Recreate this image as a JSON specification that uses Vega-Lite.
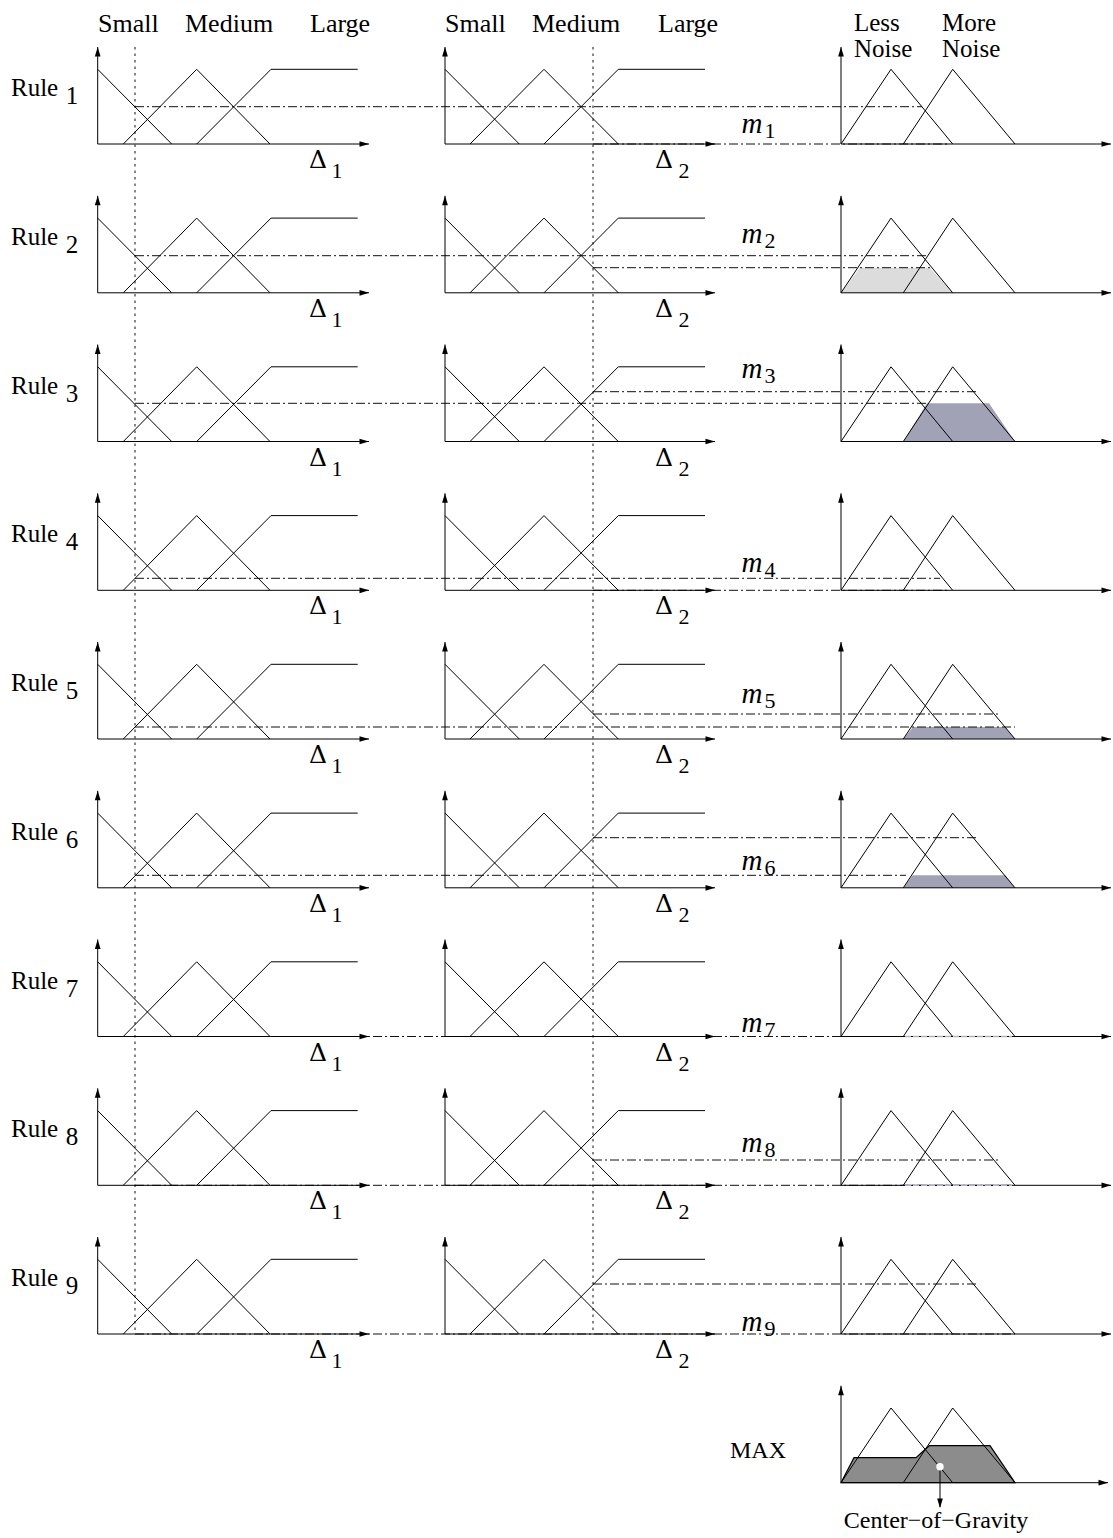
{
  "$schema": "https://vega.github.io/schema/vega-lite/v6.json",
  "width": 1113,
  "height": 1538,
  "padding": 0,
  "autosize": {"type": "none"},
  "background": "white",
  "config": {"view": {"stroke": null}, "font": "Liberation Serif"},
  "datasets": {
    "mf": [
      {"id":"1aS","x":[97.7,171.7],"y":[69.3,144]},
      {"id":"1aM","x":[123.3,196.7,270],"y":[144,69.3,144]},
      {"id":"1aL","x":[196.7,271,357.7],"y":[144,69.3,69.3]},
      {"id":"1bS","x":[445,519.3],"y":[69.3,144]},
      {"id":"1bM","x":[470,544,618.3],"y":[144,69.3,144]},
      {"id":"1bL","x":[544,618.3,705],"y":[144,69.3,69.3]},
      {"id":"1oL","x":[841,891,952.7],"y":[144,69.3,144]},
      {"id":"1oM","x":[903.3,952.7,1015],"y":[144,69.3,144]},
      {"id":"2aS","x":[97.7,171.7],"y":[218.1,292.8]},
      {"id":"2aM","x":[123.3,196.7,270],"y":[292.8,218.1,292.8]},
      {"id":"2aL","x":[196.7,271,357.7],"y":[292.8,218.1,218.1]},
      {"id":"2bS","x":[445,519.3],"y":[218.1,292.8]},
      {"id":"2bM","x":[470,544,618.3],"y":[292.8,218.1,292.8]},
      {"id":"2bL","x":[544,618.3,705],"y":[292.8,218.1,218.1]},
      {"id":"2oL","x":[841,891,952.7],"y":[292.8,218.1,292.8]},
      {"id":"2oM","x":[903.3,952.7,1015],"y":[292.8,218.1,292.8]},
      {"id":"3aS","x":[97.7,171.7],"y":[366.8,441.5]},
      {"id":"3aM","x":[123.3,196.7,270],"y":[441.5,366.8,441.5]},
      {"id":"3aL","x":[196.7,271,357.7],"y":[441.5,366.8,366.8]},
      {"id":"3bS","x":[445,519.3],"y":[366.8,441.5]},
      {"id":"3bM","x":[470,544,618.3],"y":[441.5,366.8,441.5]},
      {"id":"3bL","x":[544,618.3,705],"y":[441.5,366.8,366.8]},
      {"id":"3oL","x":[841,891,952.7],"y":[441.5,366.8,441.5]},
      {"id":"3oM","x":[903.3,952.7,1015],"y":[441.5,366.8,441.5]},
      {"id":"4aS","x":[97.7,171.7],"y":[515.6,590.3]},
      {"id":"4aM","x":[123.3,196.7,270],"y":[590.3,515.6,590.3]},
      {"id":"4aL","x":[196.7,271,357.7],"y":[590.3,515.6,515.6]},
      {"id":"4bS","x":[445,519.3],"y":[515.6,590.3]},
      {"id":"4bM","x":[470,544,618.3],"y":[590.3,515.6,590.3]},
      {"id":"4bL","x":[544,618.3,705],"y":[590.3,515.6,515.6]},
      {"id":"4oL","x":[841,891,952.7],"y":[590.3,515.6,590.3]},
      {"id":"4oM","x":[903.3,952.7,1015],"y":[590.3,515.6,590.3]},
      {"id":"5aS","x":[97.7,171.7],"y":[664.3,739]},
      {"id":"5aM","x":[123.3,196.7,270],"y":[739,664.3,739]},
      {"id":"5aL","x":[196.7,271,357.7],"y":[739,664.3,664.3]},
      {"id":"5bS","x":[445,519.3],"y":[664.3,739]},
      {"id":"5bM","x":[470,544,618.3],"y":[739,664.3,739]},
      {"id":"5bL","x":[544,618.3,705],"y":[739,664.3,664.3]},
      {"id":"5oL","x":[841,891,952.7],"y":[739,664.3,739]},
      {"id":"5oM","x":[903.3,952.7,1015],"y":[739,664.3,739]},
      {"id":"6aS","x":[97.7,171.7],"y":[813.1,887.8]},
      {"id":"6aM","x":[123.3,196.7,270],"y":[887.8,813.1,887.8]},
      {"id":"6aL","x":[196.7,271,357.7],"y":[887.8,813.1,813.1]},
      {"id":"6bS","x":[445,519.3],"y":[813.1,887.8]},
      {"id":"6bM","x":[470,544,618.3],"y":[887.8,813.1,887.8]},
      {"id":"6bL","x":[544,618.3,705],"y":[887.8,813.1,813.1]},
      {"id":"6oL","x":[841,891,952.7],"y":[887.8,813.1,887.8]},
      {"id":"6oM","x":[903.3,952.7,1015],"y":[887.8,813.1,887.8]},
      {"id":"7aS","x":[97.7,171.7],"y":[961.8,1036.5]},
      {"id":"7aM","x":[123.3,196.7,270],"y":[1036.5,961.8,1036.5]},
      {"id":"7aL","x":[196.7,271,357.7],"y":[1036.5,961.8,961.8]},
      {"id":"7bS","x":[445,519.3],"y":[961.8,1036.5]},
      {"id":"7bM","x":[470,544,618.3],"y":[1036.5,961.8,1036.5]},
      {"id":"7bL","x":[544,618.3,705],"y":[1036.5,961.8,961.8]},
      {"id":"7oL","x":[841,891,952.7],"y":[1036.5,961.8,1036.5]},
      {"id":"7oM","x":[903.3,952.7,1015],"y":[1036.5,961.8,1036.5]},
      {"id":"8aS","x":[97.7,171.7],"y":[1110.6,1185.3]},
      {"id":"8aM","x":[123.3,196.7,270],"y":[1185.3,1110.6,1185.3]},
      {"id":"8aL","x":[196.7,271,357.7],"y":[1185.3,1110.6,1110.6]},
      {"id":"8bS","x":[445,519.3],"y":[1110.6,1185.3]},
      {"id":"8bM","x":[470,544,618.3],"y":[1185.3,1110.6,1185.3]},
      {"id":"8bL","x":[544,618.3,705],"y":[1185.3,1110.6,1110.6]},
      {"id":"8oL","x":[841,891,952.7],"y":[1185.3,1110.6,1185.3]},
      {"id":"8oM","x":[903.3,952.7,1015],"y":[1185.3,1110.6,1185.3]},
      {"id":"9aS","x":[97.7,171.7],"y":[1259.3,1334]},
      {"id":"9aM","x":[123.3,196.7,270],"y":[1334,1259.3,1334]},
      {"id":"9aL","x":[196.7,271,357.7],"y":[1334,1259.3,1259.3]},
      {"id":"9bS","x":[445,519.3],"y":[1259.3,1334]},
      {"id":"9bM","x":[470,544,618.3],"y":[1334,1259.3,1334]},
      {"id":"9bL","x":[544,618.3,705],"y":[1334,1259.3,1259.3]},
      {"id":"9oL","x":[841,891,952.7],"y":[1334,1259.3,1334]},
      {"id":"9oM","x":[903.3,952.7,1015],"y":[1334,1259.3,1334]},
      {"id":"XoL","x":[841,891,952.7],"y":[1482.7,1408,1482.7]},
      {"id":"XoM","x":[903.3,952.7,1015],"y":[1482.7,1408,1482.7]}
    ],
    "axes": [
      {"x":97.7,"y":144,"x2":97.7,"y2":47},{"x":97.7,"y":144,"x2":369,"y2":144},
      {"x":445,"y":144,"x2":445,"y2":47},{"x":445,"y":144,"x2":715,"y2":144},
      {"x":841,"y":144,"x2":841,"y2":47},{"x":841,"y":144,"x2":1111,"y2":144},
      {"x":97.7,"y":292.8,"x2":97.7,"y2":195.8},{"x":97.7,"y":292.8,"x2":369,"y2":292.8},
      {"x":445,"y":292.8,"x2":445,"y2":195.8},{"x":445,"y":292.8,"x2":715,"y2":292.8},
      {"x":841,"y":292.8,"x2":841,"y2":195.8},{"x":841,"y":292.8,"x2":1111,"y2":292.8},
      {"x":97.7,"y":441.5,"x2":97.7,"y2":344.5},{"x":97.7,"y":441.5,"x2":369,"y2":441.5},
      {"x":445,"y":441.5,"x2":445,"y2":344.5},{"x":445,"y":441.5,"x2":715,"y2":441.5},
      {"x":841,"y":441.5,"x2":841,"y2":344.5},{"x":841,"y":441.5,"x2":1111,"y2":441.5},
      {"x":97.7,"y":590.3,"x2":97.7,"y2":493.3},{"x":97.7,"y":590.3,"x2":369,"y2":590.3},
      {"x":445,"y":590.3,"x2":445,"y2":493.3},{"x":445,"y":590.3,"x2":715,"y2":590.3},
      {"x":841,"y":590.3,"x2":841,"y2":493.3},{"x":841,"y":590.3,"x2":1111,"y2":590.3},
      {"x":97.7,"y":739,"x2":97.7,"y2":642},{"x":97.7,"y":739,"x2":369,"y2":739},
      {"x":445,"y":739,"x2":445,"y2":642},{"x":445,"y":739,"x2":715,"y2":739},
      {"x":841,"y":739,"x2":841,"y2":642},{"x":841,"y":739,"x2":1111,"y2":739},
      {"x":97.7,"y":887.8,"x2":97.7,"y2":790.8},{"x":97.7,"y":887.8,"x2":369,"y2":887.8},
      {"x":445,"y":887.8,"x2":445,"y2":790.8},{"x":445,"y":887.8,"x2":715,"y2":887.8},
      {"x":841,"y":887.8,"x2":841,"y2":790.8},{"x":841,"y":887.8,"x2":1111,"y2":887.8},
      {"x":97.7,"y":1036.5,"x2":97.7,"y2":939.5},{"x":97.7,"y":1036.5,"x2":369,"y2":1036.5},
      {"x":445,"y":1036.5,"x2":445,"y2":939.5},{"x":445,"y":1036.5,"x2":715,"y2":1036.5},
      {"x":841,"y":1036.5,"x2":841,"y2":939.5},{"x":841,"y":1036.5,"x2":1111,"y2":1036.5},
      {"x":97.7,"y":1185.3,"x2":97.7,"y2":1088.3},{"x":97.7,"y":1185.3,"x2":369,"y2":1185.3},
      {"x":445,"y":1185.3,"x2":445,"y2":1088.3},{"x":445,"y":1185.3,"x2":715,"y2":1185.3},
      {"x":841,"y":1185.3,"x2":841,"y2":1088.3},{"x":841,"y":1185.3,"x2":1111,"y2":1185.3},
      {"x":97.7,"y":1334,"x2":97.7,"y2":1237},{"x":97.7,"y":1334,"x2":369,"y2":1334},
      {"x":445,"y":1334,"x2":445,"y2":1237},{"x":445,"y":1334,"x2":715,"y2":1334},
      {"x":841,"y":1334,"x2":841,"y2":1237},{"x":841,"y":1334,"x2":1111,"y2":1334},
      {"x":841,"y":1482.7,"x2":841,"y2":1385.7},{"x":841,"y":1482.7,"x2":1108,"y2":1482.7},
      {"x":940,"y":1467,"x2":940,"y2":1507}
    ],
    "arrowsUp": [
      {"x":97.7,"y":47},{"x":445,"y":47},{"x":841,"y":47},
      {"x":97.7,"y":195.8},{"x":445,"y":195.8},{"x":841,"y":195.8},
      {"x":97.7,"y":344.5},{"x":445,"y":344.5},{"x":841,"y":344.5},
      {"x":97.7,"y":493.3},{"x":445,"y":493.3},{"x":841,"y":493.3},
      {"x":97.7,"y":642},{"x":445,"y":642},{"x":841,"y":642},
      {"x":97.7,"y":790.8},{"x":445,"y":790.8},{"x":841,"y":790.8},
      {"x":97.7,"y":939.5},{"x":445,"y":939.5},{"x":841,"y":939.5},
      {"x":97.7,"y":1088.3},{"x":445,"y":1088.3},{"x":841,"y":1088.3},
      {"x":97.7,"y":1237},{"x":445,"y":1237},{"x":841,"y":1237},
      {"x":841,"y":1385.7}
    ],
    "arrowsRight": [
      {"x":369,"y":144},{"x":715,"y":144},{"x":1111,"y":144},
      {"x":369,"y":292.8},{"x":715,"y":292.8},{"x":1111,"y":292.8},
      {"x":369,"y":441.5},{"x":715,"y":441.5},{"x":1111,"y":441.5},
      {"x":369,"y":590.3},{"x":715,"y":590.3},{"x":1111,"y":590.3},
      {"x":369,"y":739},{"x":715,"y":739},{"x":1111,"y":739},
      {"x":369,"y":887.8},{"x":715,"y":887.8},{"x":1111,"y":887.8},
      {"x":369,"y":1036.5},{"x":715,"y":1036.5},{"x":1111,"y":1036.5},
      {"x":369,"y":1185.3},{"x":715,"y":1185.3},{"x":1111,"y":1185.3},
      {"x":369,"y":1334},{"x":715,"y":1334},{"x":1111,"y":1334},
      {"x":1108,"y":1482.7}
    ],
    "arrowsDown": [{"x":940,"y":1508}],
    "cog": [{"x":940,"y":1466.7}],
    "levels": [
      {"x":135,"x2":922,"y":106.7},{"x":593,"x2":950,"y":144},
      {"x":135,"x2":928,"y":255.7},{"x":593,"x2":930,"y":267.7},
      {"x":135,"x2":927,"y":403.3},{"x":593,"x2":977,"y":391.7},
      {"x":135,"x2":940,"y":578.3},{"x":593,"x2":950,"y":590.3},
      {"x":135,"x2":1015,"y":727},{"x":593,"x2":1001,"y":714},
      {"x":135,"x2":906,"y":875.3},{"x":593,"x2":978,"y":837.7},
      {"x":135,"x2":1012,"y":1036.5},
      {"x":135,"x2":1012,"y":1185.3},{"x":593,"x2":1000,"y":1160},
      {"x":135,"x2":1015,"y":1334},{"x":593,"x2":979,"y":1284}
    ],
    "guides": [
      {"x":135,"y":47,"y2":1334},
      {"x":593,"y":47,"y2":1334}
    ],
    "fills": [
      {"id":"f2","term":"Less Noise","x":[841,860,930,952.7],"y":[292.8,267.7,267.7,292.8],"y2":292.8},
      {"id":"f3","term":"More Noise","x":[903.3,927,989,1015],"y":[441.5,403.3,403.3,441.5],"y2":441.5},
      {"id":"f5","term":"More Noise","x":[903.3,913,1005,1015],"y":[739,727,727,739],"y2":739},
      {"id":"f6","term":"More Noise","x":[903.3,912.7,1005.5,1015],"y":[887.8,875.3,875.3,887.8],"y2":887.8}
    ],
    "zeroFills": [
      {"x":905,"x2":1012,"y":1036.5},
      {"x":905,"x2":1012,"y":1185.3}
    ],
    "maxfill": [
      {"id":"fx","x":[841,854,916,929.3,990,1015],"y":[1482.7,1457.7,1457.7,1445.7,1445.7,1482.7],"y2":1482.7}
    ],
    "heads": [
      {"t":"Small","x":98,"y":31.7},{"t":"Medium","x":185,"y":31.7},{"t":"Large","x":310,"y":31.7},
      {"t":"Small","x":445,"y":31.7},{"t":"Medium","x":532,"y":31.7},{"t":"Large","x":658,"y":31.7}
    ],
    "outHeads": [
      {"t":"Less","x":854,"y":30.5},{"t":"Noise","x":854,"y":56.7},
      {"t":"More","x":942,"y":30.5},{"t":"Noise","x":942,"y":56.7}
    ],
    "rules": [
      {"t":"Rule","x":11,"y":96},{"t":"Rule","x":11,"y":244.8},{"t":"Rule","x":11,"y":393.5},
      {"t":"Rule","x":11,"y":542.3},{"t":"Rule","x":11,"y":691},{"t":"Rule","x":11,"y":839.8},
      {"t":"Rule","x":11,"y":988.5},{"t":"Rule","x":11,"y":1137.3},{"t":"Rule","x":11,"y":1286}
    ],
    "ruleSubs": [
      {"t":"1","x":72,"y":104},{"t":"2","x":72,"y":252.8},{"t":"3","x":72,"y":401.5},
      {"t":"4","x":72,"y":550.3},{"t":"5","x":72,"y":699},{"t":"6","x":72,"y":847.8},
      {"t":"7","x":72,"y":996.5},{"t":"8","x":72,"y":1145.3},{"t":"9","x":72,"y":1294}
    ],
    "deltas": [
      {"t":"Δ","x":318,"y":168},{"t":"Δ","x":664,"y":168},
      {"t":"Δ","x":318,"y":316.8},{"t":"Δ","x":664,"y":316.8},
      {"t":"Δ","x":318,"y":465.5},{"t":"Δ","x":664,"y":465.5},
      {"t":"Δ","x":318,"y":614.3},{"t":"Δ","x":664,"y":614.3},
      {"t":"Δ","x":318,"y":763},{"t":"Δ","x":664,"y":763},
      {"t":"Δ","x":318,"y":911.8},{"t":"Δ","x":664,"y":911.8},
      {"t":"Δ","x":318,"y":1060.5},{"t":"Δ","x":664,"y":1060.5},
      {"t":"Δ","x":318,"y":1209.3},{"t":"Δ","x":664,"y":1209.3},
      {"t":"Δ","x":318,"y":1358},{"t":"Δ","x":664,"y":1358}
    ],
    "deltaSubs": [
      {"t":"1","x":337,"y":178},{"t":"2","x":684,"y":178},
      {"t":"1","x":337,"y":326.8},{"t":"2","x":684,"y":326.8},
      {"t":"1","x":337,"y":475.5},{"t":"2","x":684,"y":475.5},
      {"t":"1","x":337,"y":624.3},{"t":"2","x":684,"y":624.3},
      {"t":"1","x":337,"y":773},{"t":"2","x":684,"y":773},
      {"t":"1","x":337,"y":921.8},{"t":"2","x":684,"y":921.8},
      {"t":"1","x":337,"y":1070.5},{"t":"2","x":684,"y":1070.5},
      {"t":"1","x":337,"y":1219.3},{"t":"2","x":684,"y":1219.3},
      {"t":"1","x":337,"y":1368},{"t":"2","x":684,"y":1368}
    ],
    "ms": [
      {"t":"m","x":752,"y":133},{"t":"m","x":752,"y":243},{"t":"m","x":752,"y":378},
      {"t":"m","x":752,"y":572},{"t":"m","x":752,"y":703},{"t":"m","x":752,"y":870},
      {"t":"m","x":752,"y":1032},{"t":"m","x":752,"y":1152},{"t":"m","x":752,"y":1331}
    ],
    "mSubs": [
      {"t":"1","x":770,"y":138},{"t":"2","x":770,"y":248},{"t":"3","x":770,"y":383},
      {"t":"4","x":770,"y":577},{"t":"5","x":770,"y":708},{"t":"6","x":770,"y":875},
      {"t":"7","x":770,"y":1037},{"t":"8","x":770,"y":1157},{"t":"9","x":770,"y":1336}
    ],
    "bottom": [
      {"t":"MAX","x":758,"y":1458},
      {"t":"Center−of−Gravity","x":936,"y":1528}
    ]
  },
  "encoding": {
    "x": {"field": "x", "type": "quantitative", "scale": {"domain": [0, 1113], "nice": false, "zero": false}, "axis": null},
    "y": {"field": "y", "type": "quantitative", "scale": {"domain": [0, 1538], "nice": false, "zero": false, "reverse": true}, "axis": null}
  },
  "layer": [
    {
      "data": {"name": "fills"},
      "transform": [{"flatten": ["x", "y"]}],
      "mark": {"type": "area", "orient": "vertical", "interpolate": "linear"},
      "encoding": {
        "y": {"field": "y", "type": "quantitative", "stack": null, "scale": {"domain": [0, 1538], "nice": false, "zero": false, "reverse": true}, "axis": null},
        "y2": {"field": "y2"},
        "detail": {"field": "id"},
        "color": {"field": "term", "type": "nominal", "scale": {"domain": ["Less Noise", "More Noise"], "range": ["#dcdcdc", "#a2a2b6"]}, "legend": null}
      }
    },
    {
      "data": {"name": "maxfill"},
      "transform": [{"flatten": ["x", "y"]}],
      "mark": {"type": "area", "orient": "vertical", "interpolate": "linear", "fill": "#8c8c8c", "stroke": "black", "strokeWidth": 1.2},
      "encoding": {
        "y": {"field": "y", "type": "quantitative", "stack": null, "scale": {"domain": [0, 1538], "nice": false, "zero": false, "reverse": true}, "axis": null},
        "y2": {"field": "y2"},
        "detail": {"field": "id"}
      }
    },
    {
      "data": {"name": "levels"},
      "mark": {"type": "rule", "stroke": "#111", "strokeWidth": 1, "strokeDash": [9, 3, 2, 3]},
      "encoding": {"x2": {"field": "x2"}}
    },
    {
      "data": {"name": "guides"},
      "mark": {"type": "rule", "stroke": "#111", "strokeWidth": 1, "strokeDash": [2.5, 4]},
      "encoding": {"y2": {"field": "y2"}}
    },
    {
      "data": {"name": "mf"},
      "transform": [{"flatten": ["x", "y"]}],
      "mark": {"type": "line", "stroke": "black", "strokeWidth": 1},
      "encoding": {"detail": {"field": "id"}}
    },
    {
      "data": {"name": "axes"},
      "mark": {"type": "rule", "stroke": "black", "strokeWidth": 1},
      "encoding": {"x2": {"field": "x2"}, "y2": {"field": "y2"}}
    },
    {
      "data": {"name": "zeroFills"},
      "mark": {"type": "rule", "stroke": "#b4b4c8", "strokeWidth": 1.5, "strokeDash": [6, 2]},
      "encoding": {"x2": {"field": "x2"}}
    },
    {
      "data": {"name": "arrowsUp"},
      "mark": {"type": "point", "shape": "M0,0L-0.6,2L0.6,2Z", "size": 90, "filled": true, "color": "black", "opacity": 1, "strokeWidth": 0}
    },
    {
      "data": {"name": "arrowsRight"},
      "mark": {"type": "point", "shape": "M0,0L-2,-0.6L-2,0.6Z", "size": 90, "filled": true, "color": "black", "opacity": 1, "strokeWidth": 0}
    },
    {
      "data": {"name": "arrowsDown"},
      "mark": {"type": "point", "shape": "M0,0L-0.6,-2L0.6,-2Z", "size": 90, "filled": true, "color": "black", "opacity": 1, "strokeWidth": 0}
    },
    {
      "data": {"name": "cog"},
      "mark": {"type": "point", "shape": "circle", "size": 55, "filled": true, "color": "white", "opacity": 1, "strokeWidth": 0}
    },
    {
      "data": {"name": "heads"},
      "mark": {"type": "text", "font": "Liberation Serif", "fontSize": 26, "align": "left", "baseline": "alphabetic", "color": "black"},
      "encoding": {"text": {"field": "t"}}
    },
    {
      "data": {"name": "outHeads"},
      "mark": {"type": "text", "font": "Liberation Serif", "fontSize": 25, "align": "left", "baseline": "alphabetic", "color": "black"},
      "encoding": {"text": {"field": "t"}}
    },
    {
      "data": {"name": "rules"},
      "mark": {"type": "text", "font": "Liberation Serif", "fontSize": 25, "align": "left", "baseline": "alphabetic", "color": "black"},
      "encoding": {"text": {"field": "t"}}
    },
    {
      "data": {"name": "ruleSubs"},
      "mark": {"type": "text", "font": "Liberation Serif", "fontSize": 25, "align": "center", "baseline": "alphabetic", "color": "black"},
      "encoding": {"text": {"field": "t"}}
    },
    {
      "data": {"name": "deltas"},
      "mark": {"type": "text", "font": "DejaVu Serif", "fontSize": 25, "align": "center", "baseline": "alphabetic", "color": "black"},
      "encoding": {"text": {"field": "t"}}
    },
    {
      "data": {"name": "deltaSubs"},
      "mark": {"type": "text", "font": "Liberation Serif", "fontSize": 22, "align": "center", "baseline": "alphabetic", "color": "black"},
      "encoding": {"text": {"field": "t"}}
    },
    {
      "data": {"name": "ms"},
      "mark": {"type": "text", "font": "Liberation Serif", "fontSize": 29, "fontStyle": "italic", "align": "center", "baseline": "alphabetic", "color": "black"},
      "encoding": {"text": {"field": "t"}}
    },
    {
      "data": {"name": "mSubs"},
      "mark": {"type": "text", "font": "Liberation Serif", "fontSize": 22, "align": "center", "baseline": "alphabetic", "color": "black"},
      "encoding": {"text": {"field": "t"}}
    },
    {
      "data": {"name": "bottom"},
      "mark": {"type": "text", "font": "Liberation Serif", "fontSize": 24, "align": "center", "baseline": "alphabetic", "color": "black"},
      "encoding": {"text": {"field": "t"}}
    }
  ]
}
